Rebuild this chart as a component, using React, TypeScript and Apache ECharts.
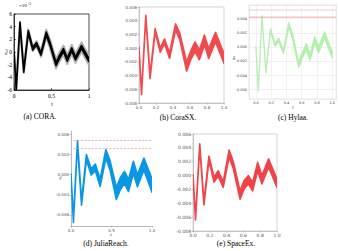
import React, { useEffect, useRef } from 'react';
import * as echarts from 'echarts';

// shared time samples (t)
const T = [0, 0.03, 0.08, 0.13, 0.19, 0.25, 0.30, 0.36, 0.43, 0.48, 0.56, 0.61, 0.66, 0.71, 0.77, 0.82, 0.90, 1.0];

// (a) CORA, in units of 1e-3
const CORA_MID = [0, -5.8, 4.5, -3.0, 3.2, 0.5, 1.3, -0.3, 2.9, 1.3, -1.9, -0.7, 0.3, -1.2, 0.4, -1.0, 0.8, -1.3];
const CORA_CORE = [0.4, 0.4, 0.4, 0.4, 0.4, 0.4, 0.4, 0.4, 0.5, 0.5, 0.5, 0.5, 0.5, 0.5, 0.5, 0.5, 0.5, 0.5];
const CORA_HALO = [0.4, 0.5, 0.5, 0.6, 0.7, 0.7, 0.8, 0.9, 1.2, 1.3, 1.4, 1.4, 1.4, 1.4, 1.4, 1.4, 1.4, 1.4];

// (b) CoraSX
const CORASX_MID = [0, -0.0066, 0.0046, -0.0042, 0.0026, -0.0003, 0.001, -0.0011, 0.0031, 0.0017, -0.0027, -0.001, 0.0002, -0.001, 0.0012, -0.0008, 0.0016, -0.0015];
const CORASX_W = [0.0003, 0.0004, 0.0004, 0.0005, 0.0005, 0.0006, 0.0007, 0.0008, 0.0009, 0.001, 0.0013, 0.0013, 0.0014, 0.0014, 0.0014, 0.0014, 0.0014, 0.0014];

// (c) Hylaa
const HYLAA_MID = [0, -0.0061, 0.0043, -0.0035, 0.0024, 0.0003, 0.001, -0.0007, 0.0031, 0.0015, -0.0025, -0.0011, 0.0, -0.0014, 0.001, -0.0004, 0.0017, -0.0011];
const HYLAA_W = [0.0002, 0.0002, 0.0002, 0.0003, 0.0004, 0.0004, 0.0005, 0.0005, 0.0007, 0.0007, 0.0008, 0.0008, 0.0009, 0.0009, 0.0009, 0.0009, 0.0009, 0.0009];
const HYLAA_LIMITS = [0.0052, 0.0042];

// (d) JuliaReach
const JULIA_MID = [0, -0.0068, 0.0048, -0.0042, 0.0026, 0.0004, 0.0011, -0.0012, 0.0031, 0.0015, -0.0028, -0.0013, -0.0004, -0.0016, 0.0011, -0.0009, 0.0016, -0.0016];
const JULIA_W = [0.0003, 0.0006, 0.0006, 0.0007, 0.0008, 0.0009, 0.001, 0.0011, 0.0013, 0.0014, 0.0018, 0.0018, 0.0018, 0.0018, 0.0018, 0.0018, 0.0018, 0.002];
const JULIA_LIMITS = [0.0051, 0.0039];

// (e) SpaceEx
const SPACEEX_MID = [0, -0.0062, 0.0044, -0.004, 0.0025, -0.0006, 0.0003, -0.0013, 0.0032, 0.0015, -0.0028, -0.0013, -0.0006, -0.0016, 0.0013, -0.0006, 0.0018, -0.0011];
const SPACEEX_W = [0.0003, 0.0004, 0.0004, 0.0005, 0.0006, 0.0007, 0.0008, 0.0008, 0.001, 0.001, 0.0012, 0.0012, 0.0012, 0.0012, 0.0012, 0.0012, 0.0012, 0.0012];

const CAPTIONS = ['(a) CORA.', '(b) CoraSX.', '(c) Hylaa.', '(d) JuliaReach.', '(e) SpaceEx.'];

const SERIF = 'Liberation Serif';
const SANS = 'DejaVu Sans';

function band(idx: number, xs: number[], mid: number[], width: number[], color: string, stroke: number) {
  const lo = mid.map((m, i) => m - width[i] / 2);
  const hi = mid.map((m, i) => m + width[i] / 2);
  return {
    type: 'custom',
    xAxisIndex: idx,
    yAxisIndex: idx,
    silent: true,
    clip: true,
    data: [[xs[0], mid[0]]],
    renderItem: (_params: any, api: any) => {
      const pts: number[][] = [];
      for (let i = 0; i < xs.length; i++) pts.push(api.coord([xs[i], hi[i]]));
      for (let i = xs.length - 1; i >= 0; i--) pts.push(api.coord([xs[i], lo[i]]));
      return { type: 'polygon', shape: { points: pts }, style: { fill: color, stroke: color, lineWidth: stroke, lineJoin: 'round' } };
    },
  };
}

function hline(idx: number, x0: number, x1: number, v: number, color: string, type: string) {
  return {
    type: 'line',
    xAxisIndex: idx,
    yAxisIndex: idx,
    silent: true,
    symbol: 'none',
    data: [[x0, v], [x1, v]],
    lineStyle: { color, width: 0.6, type },
  };
}

const fmt3 = (v: number) => (Math.abs(v) < 1e-9 ? '0.000' : v.toFixed(3));
const fmt1 = (v: number) => (Math.abs(v) < 1e-9 ? '0.0' : v.toFixed(1));

export default function App() {
  const ref = useRef<HTMLDivElement>(null);
  useEffect(() => {
    document.body.style.margin = '0';
    const chart = echarts.init(ref.current!, null, { renderer: 'svg' });
    const grayLabel = { fontSize: 4, color: '#555', fontFamily: SANS, margin: 2 };
    const option: any = {
      animation: false,
      backgroundColor: '#fff',
      grid: [
        { left: 14, top: 14, width: 75, height: 76, show: true, borderColor: '#000', borderWidth: 0.7 },
        { left: 139, top: 7, width: 85, height: 96, show: true, borderColor: '#bbb', borderWidth: 0.6 },
        { left: 249, top: 5, width: 88, height: 94, show: true, borderColor: '#ccc', borderWidth: 0.5 },
        { left: 71, top: 131, width: 81, height: 95, show: false },
        { left: 193, top: 134, width: 84, height: 97, show: true, borderColor: '#bbb', borderWidth: 0.6 },
      ],
      xAxis: [
        {
          gridIndex: 0, type: 'value', min: 0, max: 1, interval: 0.5,
          axisLine: { show: true, onZero: false, lineStyle: { color: '#000', width: 0.7 } },
          axisTick: { inside: true, length: 2, lineStyle: { color: '#000', width: 0.5 } },
          axisLabel: { fontSize: 5.5, color: '#000', fontFamily: SERIF, margin: 3, formatter: (v: number) => String(v) },
          splitLine: { show: false },
        },
        {
          gridIndex: 1, type: 'value', min: 0, max: 1, interval: 0.2,
          axisLine: { show: true, onZero: false, lineStyle: { color: '#aaa', width: 0.6 } },
          axisTick: { length: 1.5, lineStyle: { color: '#999', width: 0.5 } },
          axisLabel: { ...grayLabel, formatter: fmt1 },
          splitLine: { show: false },
        },
        {
          gridIndex: 2, type: 'value', min: -0.091, max: 1.052, minInterval: 0.2, maxInterval: 0.2,
          axisLine: { show: false, onZero: false },
          axisTick: { show: false },
          axisLabel: { fontSize: 3.5, color: '#444', fontFamily: SANS, margin: 2, showMinLabel: false, showMaxLabel: false, formatter: fmt1 },
          splitLine: { show: true, lineStyle: { color: '#e4e4e4', width: 0.5 } },
        },
        {
          gridIndex: 3, type: 'value', min: 0, max: 1, interval: 0.5,
          axisLine: { show: true, onZero: false, lineStyle: { color: '#888', width: 0.6 } },
          axisTick: { length: 1.5, lineStyle: { color: '#888', width: 0.5 } },
          axisLabel: { ...grayLabel, formatter: fmt1 },
          splitLine: { show: false },
        },
        {
          gridIndex: 4, type: 'value', min: 0, max: 1, interval: 0.2,
          axisLine: { show: true, onZero: false, lineStyle: { color: '#aaa', width: 0.6 } },
          axisTick: { length: 1.5, lineStyle: { color: '#999', width: 0.5 } },
          axisLabel: { ...grayLabel, fontSize: 4.5, formatter: fmt1 },
          splitLine: { show: false },
        },
      ],
      yAxis: [
        {
          gridIndex: 0, type: 'value', min: -6, max: 6, interval: 2,
          axisLine: { show: true, onZero: false, lineStyle: { color: '#000', width: 0.7 } },
          axisTick: { inside: true, length: 2, lineStyle: { color: '#000', width: 0.5 } },
          axisLabel: { fontSize: 5.5, color: '#000', fontFamily: SERIF, margin: 2, formatter: (v: number) => String(v) },
          splitLine: { show: false },
        },
        {
          gridIndex: 1, type: 'value', min: -0.008, max: 0.006, interval: 0.002,
          axisLine: { show: true, onZero: false, lineStyle: { color: '#aaa', width: 0.6 } },
          axisTick: { length: 1.5, lineStyle: { color: '#999', width: 0.5 } },
          axisLabel: { ...grayLabel, formatter: fmt3 },
          splitLine: { show: false },
        },
        {
          gridIndex: 2, type: 'value', min: -0.0073, max: 0.0059, minInterval: 0.002, maxInterval: 0.002,
          axisLine: { show: false, onZero: false },
          axisTick: { show: false },
          axisLabel: { fontSize: 3.5, color: '#444', fontFamily: SANS, margin: 2, showMinLabel: false, showMaxLabel: false, formatter: fmt3 },
          splitLine: { show: true, lineStyle: { color: '#e4e4e4', width: 0.5 } },
        },
        {
          gridIndex: 3, type: 'value', min: -0.00764, max: 0.00652, minInterval: 0.003, maxInterval: 0.003,
          axisLine: { show: true, onZero: false, lineStyle: { color: '#888', width: 0.6 } },
          axisTick: { length: 1.5, lineStyle: { color: '#888', width: 0.5 } },
          axisLabel: { ...grayLabel, showMinLabel: false, showMaxLabel: false, formatter: fmt3 },
          splitLine: { show: false },
        },
        {
          gridIndex: 4, type: 'value', min: -0.008, max: 0.006, interval: 0.002,
          axisLine: { show: true, onZero: false, lineStyle: { color: '#aaa', width: 0.6 } },
          axisTick: { length: 1.5, lineStyle: { color: '#999', width: 0.5 } },
          axisLabel: { ...grayLabel, fontSize: 4.5, formatter: fmt3 },
          splitLine: { show: false },
        },
      ],
      series: [
        band(0, T, CORA_MID, CORA_HALO, '#b4b4b4', 2.2),
        band(0, T, CORA_MID, CORA_CORE, '#000000', 1.6),
        band(1, T, CORASX_MID, CORASX_W, '#f04a4f', 1.6),
        hline(2, -0.091, 1.052, HYLAA_LIMITS[0], '#f4a8a8', 'solid'),
        hline(2, -0.091, 1.052, HYLAA_LIMITS[1], '#ee6e6e', 'solid'),
        band(2, T, HYLAA_MID, HYLAA_W, '#b6efb0', 1.2),
        hline(3, 0.03, 1.0, JULIA_LIMITS[0], '#f08a8a', 'dashed'),
        hline(3, 0.03, 1.0, JULIA_LIMITS[1], '#f08a8a', 'dashed'),
        band(3, T, JULIA_MID, JULIA_W, '#0a96e6', 1.6),
        band(4, T, SPACEEX_MID, SPACEEX_W, '#f04448', 1.6),
      ],
      graphic: [
        { type: 'text', x: 19, y: 3, style: { text: '×10', fontSize: 5, fill: '#000', fontFamily: SERIF } },
        { type: 'text', x: 28, y: 1.5, style: { text: '-3', fontSize: 3.5, fill: '#000', fontFamily: SERIF } },
        { type: 'text', x: 5, y: 52, rotation: Math.PI / 2, style: { text: 'x₍₈₎', fontSize: 5, fill: '#000', fontFamily: SERIF, align: 'center', verticalAlign: 'middle' } },
        { type: 'text', x: 52, y: 104, style: { text: 't', fontSize: 5.5, fill: '#000', fontFamily: SERIF, align: 'center', verticalAlign: 'middle' } },
        { type: 'text', x: 233, y: 58, rotation: Math.PI / 2, style: { text: 'x₈', fontSize: 4, fill: '#333', fontFamily: SANS, align: 'center', verticalAlign: 'middle' } },
        { type: 'text', x: 293, y: 107, style: { text: 't', fontSize: 4, fill: '#333', fontFamily: SANS, align: 'center', verticalAlign: 'middle' } },
        { type: 'text', x: 59, y: 178, rotation: Math.PI / 2, style: { text: 'x₈', fontSize: 4.5, fill: '#333', fontFamily: SERIF, fontStyle: 'italic', align: 'center', verticalAlign: 'middle' } },
        { type: 'text', x: 111, y: 234, style: { text: 't', fontSize: 5, fill: '#333', fontFamily: SERIF, fontStyle: 'italic', align: 'center', verticalAlign: 'middle' } },
        { type: 'text', x: 40, y: 116, style: { text: CAPTIONS[0], fontSize: 7.5, fill: '#000', fontFamily: SERIF, align: 'center', verticalAlign: 'middle' } },
        { type: 'text', x: 178, y: 117, style: { text: CAPTIONS[1], fontSize: 7.5, fill: '#000', fontFamily: SERIF, align: 'center', verticalAlign: 'middle' } },
        { type: 'text', x: 293, y: 117, style: { text: CAPTIONS[2], fontSize: 7.5, fill: '#000', fontFamily: SERIF, align: 'center', verticalAlign: 'middle' } },
        { type: 'text', x: 106, y: 243, style: { text: CAPTIONS[3], fontSize: 7.5, fill: '#000', fontFamily: SERIF, align: 'center', verticalAlign: 'middle' } },
        { type: 'text', x: 236, y: 243, style: { text: CAPTIONS[4], fontSize: 7.5, fill: '#000', fontFamily: SERIF, align: 'center', verticalAlign: 'middle' } },
      ],
    };
    chart.setOption(option);
    return () => chart.dispose();
  }, []);
  return <div ref={ref} style={{ width: 338, height: 251 }} />;
}
